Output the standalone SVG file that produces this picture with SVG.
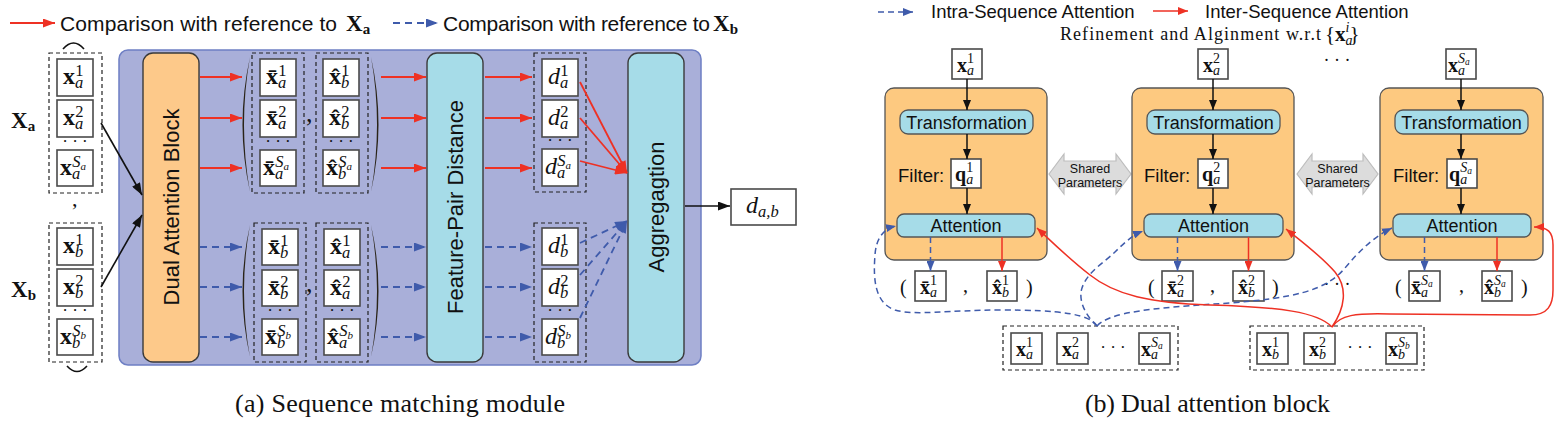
<svg xmlns="http://www.w3.org/2000/svg" width="1567" height="425" viewBox="0 0 1567 425">
<style>
.sans{font-family:"Liberation Sans",Arial,sans-serif;fill:#111}
.m{font-family:"Liberation Serif","DejaVu Serif",serif;fill:#111}
.L{font-size:24px}
.R{font-size:20px}
.b{font-weight:bold}
.i{font-style:italic}
.s16{font-size:16.5px}
.s11{font-size:11px}
.s13{font-size:14px}
.s9{font-size:9.5px}
.bx{fill:#fff;stroke:#4a4a4a;stroke-width:1.6}
.dbox{fill:none;stroke:#222;stroke-width:1.2;stroke-dasharray:4 3}
.or{fill:#fdc98a;stroke:#3a3a3a;stroke-width:1.4}
.or2{fill:#fdc980;stroke:#555;stroke-width:1.3}
.cy{fill:#a6dce8;stroke:#3a3a3a;stroke-width:1.4}
.cy2{fill:#a6dce8;stroke:#555;stroke-width:1.3}
.rl{stroke:#ee3124;stroke-width:1.8;fill:none}
.bl{stroke:#3f5bab;stroke-width:1.8;fill:none;stroke-dasharray:7 5}
.kl{stroke:#111;stroke-width:1.6;fill:none}
.rl2{stroke:#ee3124;stroke-width:1.5;fill:none}
.bl2{stroke:#3f5bab;stroke-width:1.5;fill:none;stroke-dasharray:6 4}
.kl2{stroke:#111;stroke-width:1.5;fill:none}
.sp{fill:#dcdcdc;stroke:#bdbdbd;stroke-width:1.2}
.par{fill:#2a2418}
</style>
<defs>
<marker id="ar" viewBox="0 0 12 9" refX="12" refY="4.5" markerWidth="13" markerHeight="9" markerUnits="userSpaceOnUse" orient="auto"><path d="M0,0L12,4.5L0,9z" fill="#ee3124"/></marker>
<marker id="ab" viewBox="0 0 12 9" refX="12" refY="4.5" markerWidth="13" markerHeight="9" markerUnits="userSpaceOnUse" orient="auto"><path d="M0,0L12,4.5L0,9z" fill="#3f5bab"/></marker>
<marker id="ak" viewBox="0 0 12 9" refX="12" refY="4.5" markerWidth="13" markerHeight="9" markerUnits="userSpaceOnUse" orient="auto"><path d="M0,0L12,4.5L0,9z" fill="#111"/></marker>
<marker id="ar2" viewBox="0 0 10 8" refX="10" refY="4" markerWidth="10" markerHeight="8" markerUnits="userSpaceOnUse" orient="auto"><path d="M0,0L10,4L0,8z" fill="#ee3124"/></marker>
<marker id="ab2" viewBox="0 0 10 8" refX="10" refY="4" markerWidth="10" markerHeight="8" markerUnits="userSpaceOnUse" orient="auto"><path d="M0,0L10,4L0,8z" fill="#3f5bab"/></marker>
<marker id="ak2" viewBox="0 0 10 8" refX="10" refY="4" markerWidth="10" markerHeight="8" markerUnits="userSpaceOnUse" orient="auto"><path d="M0,0L10,4L0,8z" fill="#111"/></marker>
</defs>
<rect width="1567" height="425" fill="#fff"/>

<!-- ===== Left legend ===== -->
<g id="legend-a">
<line x1="10" y1="23" x2="55" y2="23" class="rl" marker-end="url(#ar)"/>
<text class="sans" x="60" y="31" font-size="21" textLength="277" lengthAdjust="spacing">Comparison with reference to</text>
<text class="m" x="346" y="31" font-size="23"><tspan class="b">X</tspan><tspan class="b" font-size="15" dy="3">a</tspan></text>
<line x1="393" y1="23" x2="438" y2="23" class="bl" marker-end="url(#ab)"/>
<text class="sans" x="443" y="31" font-size="21" textLength="267" lengthAdjust="spacing">Comparison with reference to</text>
<text class="m" x="713" y="31" font-size="23"><tspan class="b">X</tspan><tspan class="b" font-size="15" dy="3">b</tspan></text>
</g>

<!-- ===== Left panel ===== -->
<g id="module-panel"><rect x="119" y="50" width="582" height="315" rx="9" fill="#a9afd9" stroke="#6e7fc4" stroke-width="1.5"/></g>

<g id="input-Xa">
<text class="m" x="11" y="128" font-size="23"><tspan class="b">X</tspan><tspan class="b" font-size="15" dy="3">a</tspan></text>
<path d="M63,49 Q73.5,37 84,49" fill="none" stroke="#111" stroke-width="1.6"/>
<rect x="49" y="53" width="53" height="140" class="dbox"/>
<rect x="57" y="59" width="36" height="37" class="bx"/>
<text class="m L" x="63" y="84"><tspan class="b">x</tspan><tspan class="i s16" dy="4">a</tspan><tspan class="s16" dx="-8" dy="-12">1</tspan></text>
<rect x="57" y="100" width="36" height="37" class="bx"/>
<text class="m L" x="63" y="125"><tspan class="b">x</tspan><tspan class="i s16" dy="4">a</tspan><tspan class="s16" dx="-8" dy="-12">2</tspan></text>
<text class="m" x="75" y="147" font-size="17" text-anchor="middle">· · ·</text>
<rect x="57" y="150" width="36" height="36" class="bx"/>
<text class="m L" x="60" y="175"><tspan class="b">x</tspan><tspan class="i s16" dy="4">a</tspan><tspan class="i s16" dx="-8" dy="-12">S</tspan><tspan class="i s11" dy="3">a</tspan></text>
</g>
<text class="m" x="72" y="206" font-size="22">,</text>
<g id="input-Xb">
<text class="m" x="11" y="297" font-size="23"><tspan class="b">X</tspan><tspan class="b" font-size="15" dy="3">b</tspan></text>
<rect x="49" y="223" width="53" height="139" class="dbox"/>
<rect x="57" y="228" width="36" height="37" class="bx"/>
<text class="m L" x="63" y="253"><tspan class="b">x</tspan><tspan class="i s16" dy="4">b</tspan><tspan class="s16" dx="-8" dy="-12">1</tspan></text>
<rect x="57" y="269" width="36" height="37" class="bx"/>
<text class="m L" x="63" y="294"><tspan class="b">x</tspan><tspan class="i s16" dy="4">b</tspan><tspan class="s16" dx="-8" dy="-12">2</tspan></text>
<text class="m" x="75" y="316" font-size="17" text-anchor="middle">· · ·</text>
<rect x="57" y="319" width="36" height="36" class="bx"/>
<text class="m L" x="60" y="344"><tspan class="b">x</tspan><tspan class="i s16" dy="4">b</tspan><tspan class="i s16" dx="-8" dy="-12">S</tspan><tspan class="i s11" dy="3">b</tspan></text>
<path d="M67,366 Q77,377 87,366" fill="none" stroke="#111" stroke-width="1.6"/>
</g>

<g id="dual-attention-block">
<rect x="143" y="53" width="56" height="309" rx="10" class="or"/>
<text class="sans" font-size="22" text-anchor="middle" transform="translate(179,207) rotate(-90)">Dual Attention Block</text>
</g>

<g id="pairs-a">
<path class="par" d="M250,57 Q235,124.5 250,192 Q238,124.5 250,57z"/>
<rect x="252" y="53" width="52" height="140" class="dbox"/>
<rect x="260" y="59" width="36" height="37" class="bx"/>
<text class="m L" x="266" y="84"><tspan class="b">x&#x304;</tspan><tspan class="i s16" dy="4">a</tspan><tspan class="s16" dx="-8" dy="-12">1</tspan></text>
<rect x="260" y="100" width="36" height="37" class="bx"/>
<text class="m L" x="266" y="125"><tspan class="b">x&#x304;</tspan><tspan class="i s16" dy="4">a</tspan><tspan class="s16" dx="-8" dy="-12">2</tspan></text>
<text class="m" x="278" y="147" font-size="17" text-anchor="middle">· · ·</text>
<rect x="260" y="150" width="36" height="36" class="bx"/>
<text class="m L" x="263" y="175"><tspan class="b">x&#x304;</tspan><tspan class="i s16" dy="4">a</tspan><tspan class="i s16" dx="-8" dy="-12">S</tspan><tspan class="i s11" dy="3">a</tspan></text>
<text class="m" x="306" y="122" font-size="26">,</text>
<rect x="316" y="53" width="52" height="140" class="dbox"/>
<rect x="323" y="59" width="36" height="37" class="bx"/>
<text class="m L" x="329" y="84"><tspan class="b">x&#x302;</tspan><tspan class="i s16" dy="4">b</tspan><tspan class="s16" dx="-8" dy="-12">1</tspan></text>
<rect x="323" y="100" width="36" height="37" class="bx"/>
<text class="m L" x="329" y="125"><tspan class="b">x&#x302;</tspan><tspan class="i s16" dy="4">b</tspan><tspan class="s16" dx="-8" dy="-12">2</tspan></text>
<text class="m" x="341" y="147" font-size="17" text-anchor="middle">· · ·</text>
<rect x="323" y="150" width="36" height="36" class="bx"/>
<text class="m L" x="326" y="175"><tspan class="b">x&#x302;</tspan><tspan class="i s16" dy="4">b</tspan><tspan class="i s16" dx="-8" dy="-12">S</tspan><tspan class="i s11" dy="3">a</tspan></text>
<path class="par" d="M371,57 Q386,124.5 371,192 Q383,124.5 371,57z"/>
</g>

<g id="pairs-b">
<path class="par" d="M250,225 Q235,291 250,357 Q238,291 250,225z"/>
<rect x="254" y="223" width="52" height="139" class="dbox"/>
<rect x="262" y="229" width="36" height="36" class="bx"/>
<text class="m L" x="268" y="254"><tspan class="b">x&#x304;</tspan><tspan class="i s16" dy="4">b</tspan><tspan class="s16" dx="-8" dy="-12">1</tspan></text>
<rect x="262" y="270" width="36" height="36" class="bx"/>
<text class="m L" x="268" y="295"><tspan class="b">x&#x304;</tspan><tspan class="i s16" dy="4">b</tspan><tspan class="s16" dx="-8" dy="-12">2</tspan></text>
<text class="m" x="280" y="316" font-size="17" text-anchor="middle">· · ·</text>
<rect x="262" y="319" width="36" height="36" class="bx"/>
<text class="m L" x="265" y="344"><tspan class="b">x&#x304;</tspan><tspan class="i s16" dy="4">b</tspan><tspan class="i s16" dx="-8" dy="-12">S</tspan><tspan class="i s11" dy="3">b</tspan></text>
<text class="m" x="306" y="292" font-size="26">,</text>
<rect x="316" y="223" width="52" height="139" class="dbox"/>
<rect x="324" y="229" width="36" height="36" class="bx"/>
<text class="m L" x="330" y="254"><tspan class="b">x&#x302;</tspan><tspan class="i s16" dy="4">a</tspan><tspan class="s16" dx="-8" dy="-12">1</tspan></text>
<rect x="324" y="270" width="36" height="36" class="bx"/>
<text class="m L" x="330" y="295"><tspan class="b">x&#x302;</tspan><tspan class="i s16" dy="4">a</tspan><tspan class="s16" dx="-8" dy="-12">2</tspan></text>
<text class="m" x="342" y="316" font-size="17" text-anchor="middle">· · ·</text>
<rect x="324" y="319" width="36" height="36" class="bx"/>
<text class="m L" x="327" y="344"><tspan class="b">x&#x302;</tspan><tspan class="i s16" dy="4">a</tspan><tspan class="i s16" dx="-8" dy="-12">S</tspan><tspan class="i s11" dy="3">b</tspan></text>
<path class="par" d="M371,225 Q386,291 371,357 Q383,291 371,225z"/>
</g>

<g id="feature-pair-distance">
<rect x="427" y="53" width="56" height="309" rx="10" class="cy"/>
<text class="sans" font-size="22" text-anchor="middle" transform="translate(463,207) rotate(-90)">Feature-Pair Distance</text>
</g>

<g id="distances-a">
<rect x="534" y="53" width="52" height="139" class="dbox"/>
<rect x="542" y="59" width="36" height="37" class="bx"/>
<text class="m L" x="548" y="84"><tspan class="i">d</tspan><tspan class="i s16" dy="4">a</tspan><tspan class="s16" dx="-8" dy="-12">1</tspan></text>
<rect x="542" y="100" width="36" height="37" class="bx"/>
<text class="m L" x="548" y="125"><tspan class="i">d</tspan><tspan class="i s16" dy="4">a</tspan><tspan class="s16" dx="-8" dy="-12">2</tspan></text>
<text class="m" x="560" y="146" font-size="17" text-anchor="middle">· · ·</text>
<rect x="542" y="149" width="36" height="37" class="bx"/>
<text class="m L" x="545" y="174"><tspan class="i">d</tspan><tspan class="i s16" dy="4">a</tspan><tspan class="i s16" dx="-8" dy="-12">S</tspan><tspan class="i s11" dy="3">a</tspan></text>
</g>
<g id="distances-b">
<rect x="534" y="223" width="52" height="139" class="dbox"/>
<rect x="542" y="228" width="36" height="37" class="bx"/>
<text class="m L" x="548" y="253"><tspan class="i">d</tspan><tspan class="i s16" dy="4">b</tspan><tspan class="s16" dx="-8" dy="-12">1</tspan></text>
<rect x="542" y="269" width="36" height="37" class="bx"/>
<text class="m L" x="548" y="294"><tspan class="i">d</tspan><tspan class="i s16" dy="4">b</tspan><tspan class="s16" dx="-8" dy="-12">2</tspan></text>
<text class="m" x="560" y="316" font-size="17" text-anchor="middle">· · ·</text>
<rect x="542" y="319" width="36" height="36" class="bx"/>
<text class="m L" x="545" y="344"><tspan class="i">d</tspan><tspan class="i s16" dy="4">b</tspan><tspan class="i s16" dx="-8" dy="-12">S</tspan><tspan class="i s11" dy="3">b</tspan></text>
</g>

<g id="aggregation">
<rect x="628" y="53" width="56" height="309" rx="10" class="cy"/>
<text class="sans" font-size="22" text-anchor="middle" transform="translate(664,207) rotate(-90)">Aggregagtion</text>
</g>

<g id="output-dab">
<rect x="731" y="189" width="65" height="36" class="bx"/>
<text class="m L" x="746" y="213"><tspan class="i">d</tspan><tspan class="i s16" dy="4">a,b</tspan></text>
</g>

<g id="connectors-a">
<line x1="101" y1="123" x2="142" y2="195" class="kl" marker-end="url(#ak)"/>
<line x1="101" y1="287" x2="142" y2="215" class="kl" marker-end="url(#ak)"/>
<line x1="200" y1="77" x2="242" y2="77" class="rl" marker-end="url(#ar)"/>
<line x1="200" y1="118" x2="242" y2="118" class="rl" marker-end="url(#ar)"/>
<line x1="200" y1="168" x2="242" y2="168" class="rl" marker-end="url(#ar)"/>
<line x1="381" y1="77" x2="426" y2="77" class="rl" marker-end="url(#ar)"/>
<line x1="381" y1="118" x2="426" y2="118" class="rl" marker-end="url(#ar)"/>
<line x1="381" y1="168" x2="426" y2="168" class="rl" marker-end="url(#ar)"/>
<line x1="485" y1="77" x2="532" y2="77" class="rl" marker-end="url(#ar)"/>
<line x1="485" y1="118" x2="532" y2="118" class="rl" marker-end="url(#ar)"/>
<line x1="485" y1="168" x2="532" y2="168" class="rl" marker-end="url(#ar)"/>
<line x1="200" y1="247" x2="242" y2="247" class="bl" marker-end="url(#ab)"/>
<line x1="200" y1="287" x2="242" y2="287" class="bl" marker-end="url(#ab)"/>
<line x1="200" y1="337" x2="242" y2="337" class="bl" marker-end="url(#ab)"/>
<line x1="381" y1="247" x2="426" y2="247" class="bl" marker-end="url(#ab)"/>
<line x1="381" y1="287" x2="426" y2="287" class="bl" marker-end="url(#ab)"/>
<line x1="381" y1="337" x2="426" y2="337" class="bl" marker-end="url(#ab)"/>
<line x1="485" y1="247" x2="532" y2="247" class="bl" marker-end="url(#ab)"/>
<line x1="485" y1="287" x2="532" y2="287" class="bl" marker-end="url(#ab)"/>
<line x1="485" y1="337" x2="532" y2="337" class="bl" marker-end="url(#ab)"/>
<line x1="580" y1="82" x2="627" y2="173" class="rl" marker-end="url(#ar)"/>
<line x1="580" y1="118" x2="627" y2="173" class="rl" marker-end="url(#ar)"/>
<line x1="580" y1="161" x2="627" y2="173" class="rl" marker-end="url(#ar)"/>
<line x1="580" y1="243" x2="627" y2="221" class="bl" marker-end="url(#ab)"/>
<line x1="580" y1="275" x2="627" y2="221" class="bl" marker-end="url(#ab)"/>
<line x1="580" y1="318" x2="627" y2="221" class="bl" marker-end="url(#ab)"/>
<line x1="685" y1="206" x2="730" y2="206" class="kl" marker-end="url(#ak)"/>
</g>

<text class="m" x="235" y="412" font-size="26" textLength="330" lengthAdjust="spacing">(a)  Sequence matching module</text>

<!-- ===== Right legend ===== -->
<g id="legend-b">
<line x1="878" y1="12" x2="913" y2="12" class="bl2" marker-end="url(#ab2)"/>
<text class="sans" x="931" y="18" font-size="18.5">Intra-Sequence Attention</text>
<line x1="1153" y1="11" x2="1188" y2="11" class="rl2" marker-end="url(#ar2)"/>
<text class="sans" x="1205" y="18" font-size="18.5">Inter-Sequence Attention</text>
<text class="m" x="1060" y="40" font-size="18" textLength="261" lengthAdjust="spacing">Refinement and Alginment w.r.t</text>
<text class="m" x="1325" y="41" font-size="21">{<tspan class="b">x</tspan><tspan class="i s13" dy="4">a</tspan><tspan class="i s13" dx="-7" dy="-13">i</tspan><tspan dy="9">}</tspan></text>
</g>

<g id="block-1">
<rect x="952" y="49" width="30" height="30" class="bx"/>
<text class="m R" x="957" y="72"><tspan class="b">x</tspan><tspan class="i s13" dy="3">a</tspan><tspan class="s13" dx="-7" dy="-12">1</tspan></text>
<rect x="885" y="88" width="162" height="172" rx="9" class="or2"/>
<rect x="900" y="110" width="133" height="24" rx="8" class="cy2"/>
<text class="sans" x="966.5" y="128.5" font-size="18" text-anchor="middle">Transformation</text>
<text class="sans" x="898" y="182" font-size="18.5">Filter:</text>
<rect x="951" y="159" width="30" height="29" class="bx"/>
<text class="m R" x="955" y="181"><tspan class="b">q</tspan><tspan class="i s13" dy="3">a</tspan><tspan class="s13" dx="-7" dy="-12">1</tspan></text>
<rect x="897" y="214" width="138" height="23" rx="7" class="cy2"/>
<text class="sans" x="966" y="232" font-size="18" text-anchor="middle">Attention</text>
<text class="m" x="900" y="294" font-size="20">(</text>
<rect x="915" y="271" width="31" height="30" class="bx"/>
<text class="m R" x="920" y="294"><tspan class="b">x&#x304;</tspan><tspan class="i s13" dy="3">a</tspan><tspan class="s13" dx="-7" dy="-12">1</tspan></text>
<text class="m" x="963" y="292" font-size="20">,</text>
<rect x="987" y="271" width="30" height="30" class="bx"/>
<text class="m R" x="992" y="294"><tspan class="b">x&#x302;</tspan><tspan class="i s13" dy="3">b</tspan><tspan class="s13" dx="-7" dy="-12">1</tspan></text>
<text class="m" x="1026" y="294" font-size="20">)</text>
</g>

<g id="shared-1">
<path class="sp" d="M1049,174 L1064,154 L1064,161 L1116,161 L1116,154 L1131,174 L1116,194 L1116,187 L1064,187 L1064,194 Z"/>
<text class="sans" x="1090" y="173" font-size="12.5" text-anchor="middle">Shared</text>
<text class="sans" x="1090" y="187" font-size="12.5" text-anchor="middle">Parameters</text>
</g>

<g id="block-2">
<rect x="1198" y="49" width="30" height="30" class="bx"/>
<text class="m R" x="1203" y="72"><tspan class="b">x</tspan><tspan class="i s13" dy="3">a</tspan><tspan class="s13" dx="-7" dy="-12">2</tspan></text>
<rect x="1132" y="88" width="162" height="172" rx="9" class="or2"/>
<rect x="1147" y="110" width="133" height="24" rx="8" class="cy2"/>
<text class="sans" x="1213.5" y="128.5" font-size="18" text-anchor="middle">Transformation</text>
<text class="sans" x="1144" y="182" font-size="18.5">Filter:</text>
<rect x="1198" y="159" width="30" height="29" class="bx"/>
<text class="m R" x="1202" y="181"><tspan class="b">q</tspan><tspan class="i s13" dy="3">a</tspan><tspan class="s13" dx="-7" dy="-12">2</tspan></text>
<rect x="1144" y="214" width="139" height="23" rx="7" class="cy2"/>
<text class="sans" x="1213.5" y="232" font-size="18" text-anchor="middle">Attention</text>
<text class="m" x="1148" y="294" font-size="20">(</text>
<rect x="1162" y="271" width="31" height="30" class="bx"/>
<text class="m R" x="1167" y="294"><tspan class="b">x&#x304;</tspan><tspan class="i s13" dy="3">a</tspan><tspan class="s13" dx="-7" dy="-12">2</tspan></text>
<text class="m" x="1210" y="292" font-size="20">,</text>
<rect x="1233" y="271" width="31" height="30" class="bx"/>
<text class="m R" x="1238" y="294"><tspan class="b">x&#x302;</tspan><tspan class="i s13" dy="3">b</tspan><tspan class="s13" dx="-7" dy="-12">2</tspan></text>
<text class="m" x="1272" y="294" font-size="20">)</text>
</g>

<text class="m" x="1337" y="66" font-size="18" text-anchor="middle">· · ·</text>
<text class="m" x="1337" y="290" font-size="18" text-anchor="middle">· · ·</text>

<g id="shared-2">
<path class="sp" d="M1297,174 L1312,154 L1312,161 L1363,161 L1363,154 L1378,174 L1363,194 L1363,187 L1312,187 L1312,194 Z"/>
<text class="sans" x="1337.5" y="173" font-size="12.5" text-anchor="middle">Shared</text>
<text class="sans" x="1337.5" y="187" font-size="12.5" text-anchor="middle">Parameters</text>
</g>

<g id="block-3">
<rect x="1446" y="49" width="30" height="30" class="bx"/>
<text class="m R" x="1448" y="72"><tspan class="b">x</tspan><tspan class="i s13" dy="3">a</tspan><tspan class="i s13" dx="-7" dy="-12">S</tspan><tspan class="i s9" dy="2">a</tspan></text>
<rect x="1380" y="88" width="163" height="172" rx="9" class="or2"/>
<rect x="1395" y="110" width="133" height="24" rx="8" class="cy2"/>
<text class="sans" x="1461.5" y="128.5" font-size="18" text-anchor="middle">Transformation</text>
<text class="sans" x="1393" y="182" font-size="18.5">Filter:</text>
<rect x="1447" y="159" width="30" height="29" class="bx"/>
<text class="m R" x="1449" y="181"><tspan class="b">q</tspan><tspan class="i s13" dy="3">a</tspan><tspan class="i s13" dx="-7" dy="-12">S</tspan><tspan class="i s9" dy="2">a</tspan></text>
<rect x="1393" y="214" width="138" height="23" rx="7" class="cy2"/>
<text class="sans" x="1462" y="232" font-size="18" text-anchor="middle">Attention</text>
<text class="m" x="1395" y="294" font-size="20">(</text>
<rect x="1409" y="271" width="31" height="30" class="bx"/>
<text class="m R" x="1411" y="294"><tspan class="b">x&#x304;</tspan><tspan class="i s13" dy="3">a</tspan><tspan class="i s13" dx="-7" dy="-12">S</tspan><tspan class="i s9" dy="2">a</tspan></text>
<text class="m" x="1459" y="292" font-size="20">,</text>
<rect x="1482" y="271" width="30" height="30" class="bx"/>
<text class="m R" x="1484" y="294"><tspan class="b">x&#x302;</tspan><tspan class="i s13" dy="3">b</tspan><tspan class="i s13" dx="-7" dy="-12">S</tspan><tspan class="i s9" dy="2">a</tspan></text>
<text class="m" x="1521" y="294" font-size="20">)</text>
</g>

<g id="sequence-a">
<rect x="1003" y="326" width="175" height="44" class="dbox"/>
<rect x="1011" y="333" width="31" height="31" class="bx"/>
<text class="m R" x="1016" y="356"><tspan class="b">x</tspan><tspan class="i s13" dy="3">a</tspan><tspan class="s13" dx="-7" dy="-12">1</tspan></text>
<rect x="1057" y="333" width="31" height="31" class="bx"/>
<text class="m R" x="1062" y="356"><tspan class="b">x</tspan><tspan class="i s13" dy="3">a</tspan><tspan class="s13" dx="-7" dy="-12">2</tspan></text>
<text class="m" x="1113" y="353" font-size="17" text-anchor="middle">· · ·</text>
<rect x="1139" y="333" width="31" height="31" class="bx"/>
<text class="m R" x="1141" y="356"><tspan class="b">x</tspan><tspan class="i s13" dy="3">a</tspan><tspan class="i s13" dx="-7" dy="-12">S</tspan><tspan class="i s9" dy="2">a</tspan></text>
</g>

<g id="sequence-b">
<rect x="1250" y="326" width="174" height="44" class="dbox"/>
<rect x="1257" y="333" width="31" height="31" class="bx"/>
<text class="m R" x="1262" y="356"><tspan class="b">x</tspan><tspan class="i s13" dy="3">b</tspan><tspan class="s13" dx="-7" dy="-12">1</tspan></text>
<rect x="1304" y="333" width="31" height="31" class="bx"/>
<text class="m R" x="1309" y="356"><tspan class="b">x</tspan><tspan class="i s13" dy="3">b</tspan><tspan class="s13" dx="-7" dy="-12">2</tspan></text>
<text class="m" x="1360" y="353" font-size="17" text-anchor="middle">· · ·</text>
<rect x="1386" y="333" width="31" height="31" class="bx"/>
<text class="m R" x="1388" y="356"><tspan class="b">x</tspan><tspan class="i s13" dy="3">b</tspan><tspan class="i s13" dx="-7" dy="-12">S</tspan><tspan class="i s9" dy="2">b</tspan></text>
</g>

<g id="connectors-b">
<line x1="967" y1="79" x2="967" y2="110" class="kl2" marker-end="url(#ak2)"/>
<line x1="967" y1="134" x2="967" y2="159" class="kl2" marker-end="url(#ak2)"/>
<line x1="967" y1="188" x2="967" y2="214" class="kl2" marker-end="url(#ak2)"/>
<line x1="1213" y1="79" x2="1213" y2="110" class="kl2" marker-end="url(#ak2)"/>
<line x1="1213" y1="134" x2="1213" y2="159" class="kl2" marker-end="url(#ak2)"/>
<line x1="1213" y1="188" x2="1213" y2="214" class="kl2" marker-end="url(#ak2)"/>
<line x1="1461" y1="79" x2="1461" y2="110" class="kl2" marker-end="url(#ak2)"/>
<line x1="1461" y1="134" x2="1461" y2="159" class="kl2" marker-end="url(#ak2)"/>
<line x1="1461" y1="188" x2="1461" y2="214" class="kl2" marker-end="url(#ak2)"/>
<line x1="930.5" y1="237" x2="930.5" y2="271" class="bl2" stroke-dasharray="5 3" marker-end="url(#ab2)"/>
<line x1="1002" y1="237" x2="1002" y2="271" class="rl2" marker-end="url(#ar2)"/>
<line x1="1177.5" y1="237" x2="1177.5" y2="271" class="bl2" stroke-dasharray="5 3" marker-end="url(#ab2)"/>
<line x1="1248.5" y1="237" x2="1248.5" y2="271" class="rl2" marker-end="url(#ar2)"/>
<line x1="1424.5" y1="237" x2="1424.5" y2="271" class="bl2" stroke-dasharray="5 3" marker-end="url(#ab2)"/>
<line x1="1497" y1="237" x2="1497" y2="271" class="rl2" marker-end="url(#ar2)"/>
<path class="bl2" d="M1097,326 C1090,314 1060,310 1000,310 C950,310 915,316 895,310 C875,303 873,280 875,255 C876,240 882,229 896,226" marker-end="url(#ab2)"/>
<path class="bl2" d="M1097,326 C1085,315 1078,300 1082,288 C1087,272 1105,262 1115,252 C1125,242 1133,235 1143,231" marker-end="url(#ab2)"/>
<path class="bl2" d="M1097,326 C1110,312 1150,308 1230,303 C1290,298 1325,292 1345,268 C1360,250 1375,236 1392,228" marker-end="url(#ab2)"/>
<path class="rl2" d="M1332,327 C1318,312 1280,307 1210,305 C1150,303 1115,295 1090,275 C1068,258 1050,240 1037,228" marker-end="url(#ar2)"/>
<path class="rl2" d="M1332,327 C1345,308 1348,288 1335,272 C1320,255 1300,240 1286,229" marker-end="url(#ar2)"/>
<path class="rl2" d="M1332,327 C1340,315 1355,313 1390,314 L1530,315 C1548,315 1553,305 1553,290 L1553,245 C1553,232 1548,227 1534,227" marker-end="url(#ar2)"/>
</g>

<text class="m" x="1085" y="412" font-size="26" textLength="245" lengthAdjust="spacing">(b)  Dual attention block</text>
</svg>
